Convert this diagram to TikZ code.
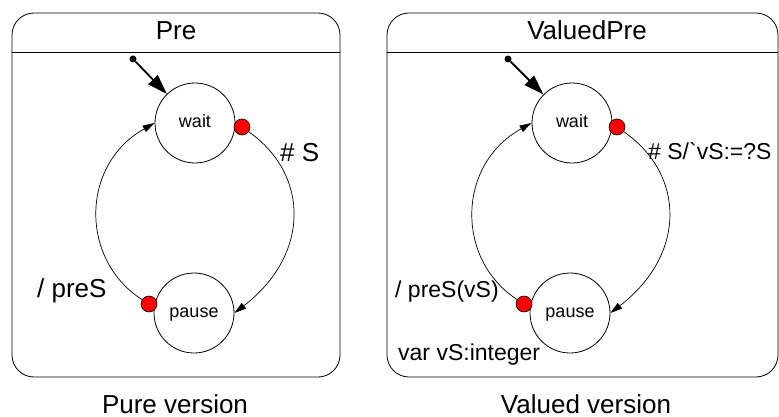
\documentclass[tikz,border=0pt]{standalone}
\usepackage{fontspec}
\setmainfont{Liberation Sans}
\newfontfamily\rawfont{Liberation Sans}[Ligatures=TeXOff]
\usetikzlibrary{arrows.meta}
\begin{document}
\begin{tikzpicture}[x=1pt,y=-1pt,
  boxframe/.style={draw, line width=0.8pt, rounded corners=22pt},
  state/.style={circle, draw, line width=0.8pt, minimum size=80pt, inner sep=0pt,
    font=\fontsize{18}{20}\selectfont, text height=9.4pt, text depth=0pt},
  exitdot/.style={circle, draw, line width=0.6pt, fill=red, minimum size=16pt, inner sep=0pt},
  initdot/.style={circle, fill=black, minimum size=7pt, inner sep=0pt},
  initarrow/.style={line width=1.8pt, -{Triangle[length=20pt,width=13pt]}},
  trans/.style={line width=0.7pt, -{Triangle[length=12pt,width=7pt]}},
  biglabel/.style={font=\fontsize{26}{30}\selectfont, inner sep=0pt},
  medlabel/.style={font=\rawfont\fontsize{23}{27}\selectfont, inner sep=0pt}
]
\useasboundingbox (0,0) rectangle (779,417);

% ---------- Left: Pre ----------
\draw[boxframe] (12,13) rectangle (340,377);
\draw[line width=0.8pt] (12,52) -- (340,52);
\node[biglabel, anchor=base] (tPre) at (176,40) {Pre};

\node[state] (w1) at (195,123) {wait};
\node[state] (p1) at (194,313) {pause};
\node[exitdot] (d1) at (242,127) {};
\node[exitdot] (e1) at (149,304) {};
\node[initdot] (i1) at (133,59) {};

\draw[initarrow] (i1) -- (w1);
\draw[trans] (d1) .. controls (310,175) and (310,255) .. (p1.east);
\draw[trans] (e1) .. controls (80,260) and (80,165) .. (w1.west);

\node[biglabel, anchor=base west] (l1) at (280,161) {\# S};
\node[biglabel, anchor=base west] (l2) at (37,297) {/ preS};
\node[biglabel, anchor=base] (c1) at (175,413) {Pure version};

% ---------- Right: ValuedPre ----------
\draw[boxframe] (387,13) rectangle (778,377);
\draw[line width=0.8pt] (387,52) -- (778,52);
\node[biglabel, anchor=base] (tVP) at (587,40) {ValuedPre};

\node[state] (w2) at (572,123) {wait};
\node[state] (p2) at (570,313) {pause};
\node[exitdot] (d2) at (617,127) {};
\node[exitdot] (e2) at (524,304) {};
\node[initdot] (i2) at (508,59) {};

\draw[initarrow] (i2) -- (w2);
\draw[trans] (d2) .. controls (686,175) and (686,255) .. (p2.east);
\draw[trans] (e2) .. controls (456,260) and (456,165) .. (w2.west);

\node[medlabel, anchor=base west] (l3) at (648,160) {\# S/`vS:=?S};
\node[medlabel, anchor=base west] (l4) at (395,297) {/ preS(vS)};
\node[medlabel, anchor=base west] (l5) at (398,360) {var vS:integer};
\node[biglabel, anchor=base] (c2) at (586,413) {Valued version};
\end{tikzpicture}
\end{document}
